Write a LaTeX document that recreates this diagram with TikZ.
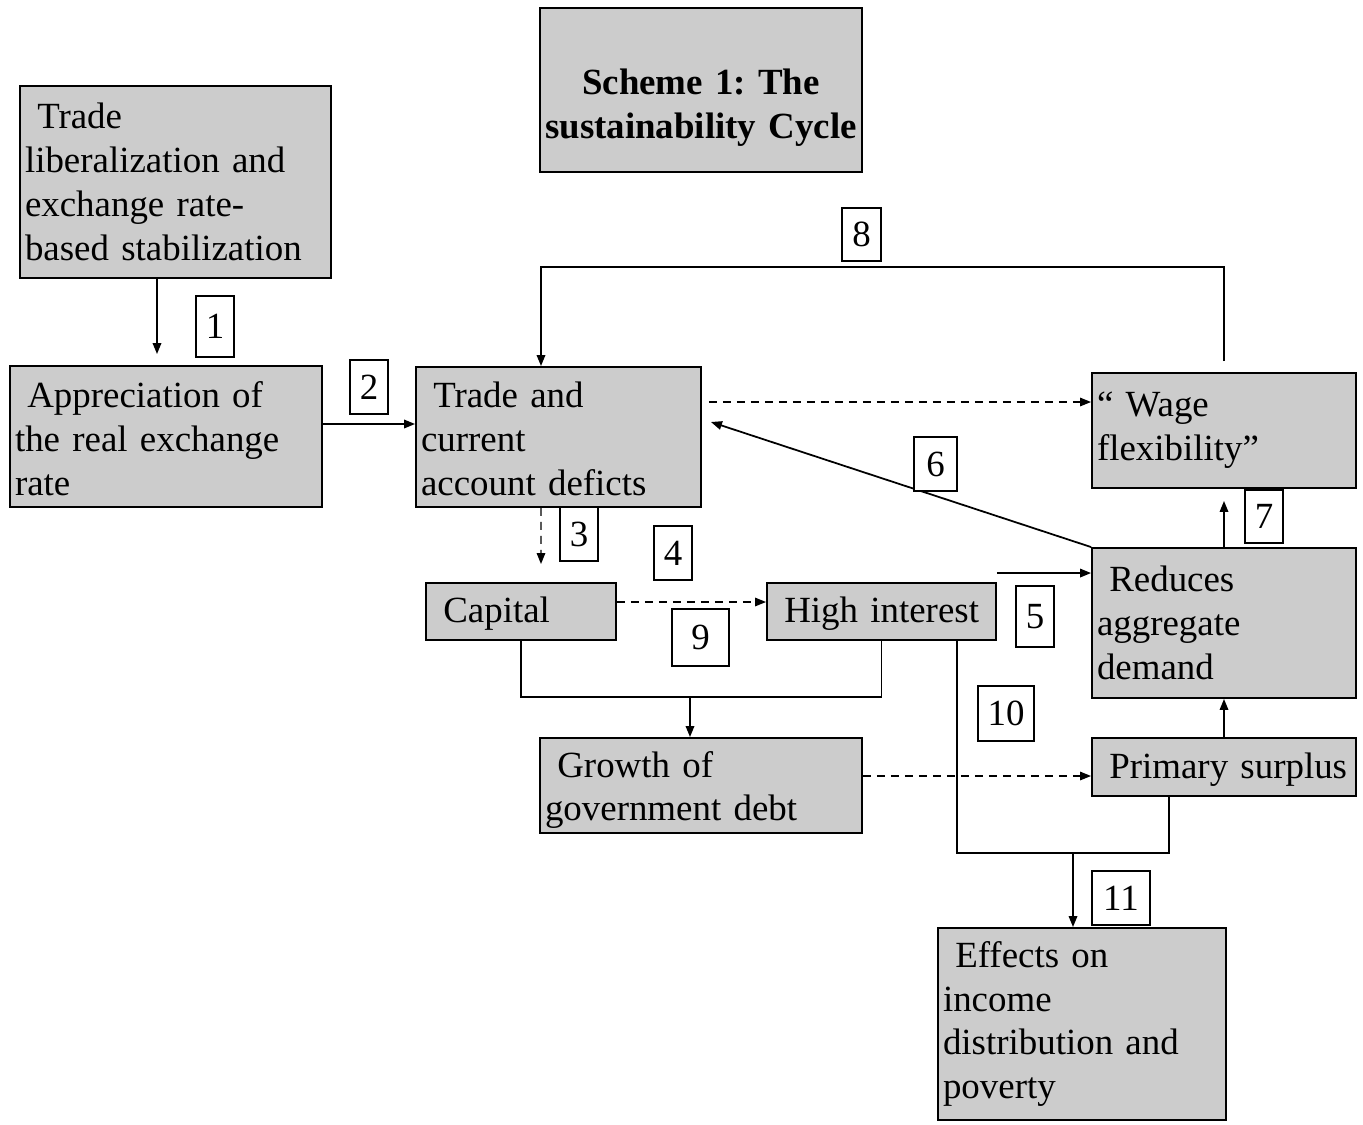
\documentclass[tikz,border=0pt]{standalone}
\usepackage{fontspec}
\setmainfont{Liberation Serif}
\usetikzlibrary{arrows.meta}
\newcommand{\boxfont}{\fontsize{21}{25}\selectfont\frenchspacing}

\begin{document}
\begin{tikzpicture}[x=0.02cm, y=-0.02cm,
    >={Triangle[length=0.22cm,width=0.17cm]},
    box/.style 2 args={draw, fill=black!20, line width=1.1pt, align=left, text width=#1,
      minimum height=#2, inner xsep=0.1cm, inner ysep=0pt, font=\boxfont},
    num/.style 2 args={draw, fill=white, line width=0.8pt, minimum width=#1,
      minimum height=#2, inner sep=0pt, font=\boxfont},
    link/.style={line width=1pt},
    dashlink/.style={line width=0.8pt, dash pattern=on 0.16cm off 0.12cm}]
  \useasboundingbox (0,0) rectangle (1363,1125);

  \node[box={6.24cm}{3.28cm}, align=center, font=\boxfont\bfseries] (title) at (701,90) {\rule{0pt}{1.22cm}Scheme 1: The\\sustainability Cycle};
  \node[box={6.02cm}{3.84cm}] (trade) at (175.5,182) {\ Trade\\liberalization and\\exchange rate-\\based stabilization};
  \node[box={6.04cm}{2.82cm}] (apprec) at (166,436.5) {\rule{0pt}{0.6cm}\ Appreciation of\\the real exchange\\rate};
  \node[box={5.5cm}{2.8cm}] (deficit) at (558.5,437) {\rule{0pt}{0.6cm}\ Trade and\\current\\account deficts};
  \node[box={5.08cm}{2.3cm}] (wage) at (1224,430.5) {“ Wage\\flexibility”};
  \node[box={5.08cm}{3.0cm}] (demand) at (1224,623) {\ Reduces\\aggregate\\demand};
  \node[box={3.6cm}{1.14cm}] (capital) at (521,611.5) {\rule{0pt}{0.6cm}\ Capital};
  \node[box={4.38cm}{1.14cm}] (interest) at (881.5,611.5) {\rule{0pt}{0.6cm}\ High interest};
  \node[box={6.24cm}{1.9cm}] (debt) at (701,785.5) {\rule{0pt}{0.7cm}\ Growth of\\government debt};
  \node[box={5.08cm}{1.16cm}] (surplus) at (1224,767) {\rule{0pt}{0.6cm}\ Primary surplus};
  \node[box={5.56cm}{3.84cm}] (effects) at (1082,1024) {\ Effects on\\income\\distribution and\\poverty};

  \coordinate (top8) at (541,267);
  \coordinate (join9) at (690,697);
  \coordinate (join11) at (1073,853);

  \draw[link,->] ([xshift=-0.37cm]trade.south) -- ([xshift=-0.18cm,yshift=0.22cm]apprec.north);
  \draw[link,->] ([yshift=0.25cm]apprec.east) -- ([yshift=0.25cm]apprec.east -| deficit.west);
  \draw[link,->] ([yshift=0.22cm]wage.north) |- (top8) -- (top8 |- deficit.north);
  \draw[dashlink,->] ([xshift=0.14cm,yshift=0.7cm]deficit.east) -- ([yshift=0.7cm]deficit.east -| wage.west);
  \draw[link,->] (demand.north west) -- ([xshift=0.18cm,yshift=0.3cm]deficit.east);
  \draw[link,->] (demand.north) -- ([yshift=-0.24cm]wage.south);
  \draw[dashlink,->] ([xshift=-0.35cm]deficit.south) -- ([xshift=0.4cm,yshift=0.36cm]capital.north);
  \draw[dashlink,->] ([yshift=0.19cm]capital.east) -- ([yshift=0.19cm]capital.east -| interest.west);
  \draw[link] (capital.south) |- (join9) -| (interest.south);
  \draw[link,->] (join9) -- (join9 |- debt.north);
  \draw[link,->] ([yshift=0.18cm]interest.north east) -- ([yshift=0.18cm]interest.north east -| demand.west);
  \draw[dashlink,->] ([yshift=0.19cm]debt.east) -- ([yshift=0.19cm]debt.east -| surplus.west);
  \draw[link,->] (surplus.north) -- (demand.south);
  \draw[link] ([xshift=1.51cm]interest.south) |- (join11) -| ([xshift=-1.1cm]surplus.south);
  \draw[link,->] (join11) -- (join11 |- effects.north);

  \node[num={0.76cm}{1.22cm}] (n1) at (215,326.5) {1};
  \node[num={0.76cm}{1.08cm}] (n2) at (369,387) {2};
  \node[num={0.76cm}{1.08cm}] (n3) at (579,534) {3};
  \node[num={0.76cm}{1.08cm}] (n4) at (673,553) {4};
  \node[num={0.76cm}{1.22cm}] (n5) at (1035,616.5) {5};
  \node[num={0.86cm}{1.08cm}] (n6) at (935.5,464) {6};
  \node[num={0.76cm}{1.06cm}] (n7) at (1264,516.5) {7};
  \node[num={0.78cm}{1.06cm}] (n8) at (861.5,234.5) {8};
  \node[num={1.14cm}{1.14cm}] (n9) at (700.5,637.5) {9};
  \node[num={1.12cm}{1.1cm}] (n10) at (1006,713.5) {10};
  \node[num={1.16cm}{1.08cm}] (n11) at (1121,898) {11};
\end{tikzpicture}
\end{document}
